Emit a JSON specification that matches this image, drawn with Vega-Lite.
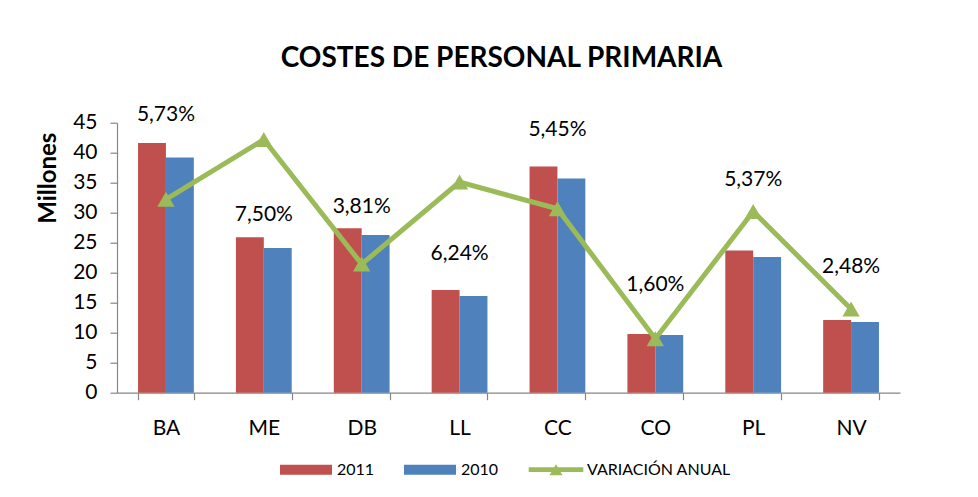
{
  "$schema": "https://vega.github.io/schema/vega-lite/v6.json",
  "width": 783,
  "height": 270,
  "autosize": {"type": "none"},
  "padding": {"left": 117, "top": 122.7, "right": 78, "bottom": 104.3},
  "background": "white",
  "config": {
    "locale": {"number": {"decimal": ",", "thousands": ".", "grouping": [3], "currency": ["", " €"]}},
    "view": {"stroke": null},
    "font": "Lato",
    "axis": {
      "domainColor": "#868686",
      "tickColor": "#868686",
      "domainWidth": 1.2,
      "tickWidth": 1.2,
      "tickSize": 7,
      "labelColor": "#000000",
      "labelFont": "Lato",
      "labelFontSize": 21,
      "grid": false,
      "titleColor": "#000000"
    }
  },
  "title": {
    "text": "COSTES DE PERSONAL PRIMARIA",
    "font": "Lato",
    "fontSize": 28,
    "fontWeight": "bold",
    "color": "#000000",
    "anchor": "middle",
    "frame": "group",
    "baseline": "alphabetic",
    "offset": 9,
    "dx": -7
  },
  "datasets": {
    "costes": [
      {"zona": "BA", "serie": "2011", "millones": 41.6},
      {"zona": "BA", "serie": "2010", "millones": 39.2},
      {"zona": "ME", "serie": "2011", "millones": 25.9},
      {"zona": "ME", "serie": "2010", "millones": 24.1},
      {"zona": "DB", "serie": "2011", "millones": 27.4},
      {"zona": "DB", "serie": "2010", "millones": 26.3},
      {"zona": "LL", "serie": "2011", "millones": 17.1},
      {"zona": "LL", "serie": "2010", "millones": 16.1},
      {"zona": "CC", "serie": "2011", "millones": 37.7},
      {"zona": "CC", "serie": "2010", "millones": 35.7},
      {"zona": "CO", "serie": "2011", "millones": 9.8},
      {"zona": "CO", "serie": "2010", "millones": 9.6},
      {"zona": "PL", "serie": "2011", "millones": 23.7},
      {"zona": "PL", "serie": "2010", "millones": 22.6},
      {"zona": "NV", "serie": "2011", "millones": 12.1},
      {"zona": "NV", "serie": "2010", "millones": 11.8}
    ],
    "variacion": [
      {"zona": "BA", "variacion": 0.0573, "y_etiqueta": 0.0823},
      {"zona": "ME", "variacion": 0.0750, "y_etiqueta": 0.0527},
      {"zona": "DB", "variacion": 0.0381, "y_etiqueta": 0.0549},
      {"zona": "LL", "variacion": 0.0624, "y_etiqueta": 0.0411},
      {"zona": "CC", "variacion": 0.0545, "y_etiqueta": 0.0777},
      {"zona": "CO", "variacion": 0.0160, "y_etiqueta": 0.0319},
      {"zona": "PL", "variacion": 0.0537, "y_etiqueta": 0.0630},
      {"zona": "NV", "variacion": 0.0248, "y_etiqueta": 0.0372}
    ]
  },
  "layer": [
    {
      "data": {"name": "costes"},
      "mark": {"type": "bar"},
      "encoding": {
        "x": {
          "field": "zona",
          "type": "nominal",
          "sort": ["BA", "ME", "DB", "LL", "CC", "CO", "PL", "NV"],
          "scale": {"paddingInner": 0.43, "paddingOuter": 0.215},
          "axis": {"title": null, "labelAngle": 0, "tickBand": "extent", "labelPadding": 18}
        },
        "xOffset": {
          "field": "serie",
          "type": "nominal",
          "sort": ["2011", "2010"],
          "scale": {"paddingInner": 0, "paddingOuter": 0}
        },
        "y": {
          "field": "millones",
          "type": "quantitative",
          "scale": {"domain": [0, 45], "nice": false},
          "axis": {
            "title": "Millones",
            "titleFont": "Lato",
            "titleFontSize": 24,
            "titleFontWeight": "bold",
            "titlePadding": 12,
            "titleY": 55,
            "values": [0, 5, 10, 15, 20, 25, 30, 35, 40, 45],
            "labelPadding": 13
          }
        },
        "color": {
          "field": "serie",
          "type": "nominal",
          "scale": {"domain": ["2011", "2010", "VARIACIÓN ANUAL"], "range": ["#C0504D", "#4F81BD", "#9BBB59"]},
          "legend": {
            "orient": "none",
            "legendX": 163,
            "legendY": 321,
            "direction": "horizontal",
            "title": null,
            "labelFont": "Lato",
            "labelFontSize": 16,
            "labelColor": "#000000",
            "labelOffset": 5,
            "columnPadding": 29,
            "symbolSize": 2704,
            "symbolType": "M-1,-0.19H1V0.19H-1Z",
            "encode": {
              "symbols": {
                "update": {
                  "shape": {"signal": "datum.value === 'VARIACIÓN ANUAL' ? 'M-1.05,-0.09H1.05V0.09H-1.05Z M-0.25,0.21L0,-0.21L0.25,0.21Z' : 'M-1,-0.19H1V0.19H-1Z'"},
                  "fill": {"signal": "datum.value === '2011' ? '#C0504D' : datum.value === '2010' ? '#4F81BD' : '#9BBB59'"},
                  "stroke": {"value": "transparent"},
                  "strokeWidth": {"value": 0},
                  "size": {"value": 2704},
                  "opacity": {"value": 1},
                  "fillOpacity": {"value": 1}
                }
              }
            }
          }
        }
      }
    },
    {
      "data": {"name": "variacion"},
      "layer": [
        {
          "mark": {
            "type": "line",
            "strokeWidth": 5,
            "point": {"shape": "triangle-up", "size": 300, "filled": true, "opacity": 1}
          },
          "encoding": {
            "x": {"field": "zona", "type": "nominal", "sort": ["BA", "ME", "DB", "LL", "CC", "CO", "PL", "NV"]},
            "y": {
              "field": "variacion",
              "type": "quantitative",
              "scale": {"domain": [0, 0.08], "nice": false},
              "axis": {
                "orient": "right",
                "title": null,
                "format": ".0%",
                "values": [0, 0.01, 0.02, 0.03, 0.04, 0.05, 0.06, 0.07, 0.08],
                "labelPadding": 15
              }
            },
            "color": {"datum": "VARIACIÓN ANUAL"}
          }
        },
        {
          "mark": {"type": "text", "fontSize": 21, "font": "Lato", "color": "#000000", "baseline": "middle", "align": "center"},
          "encoding": {
            "x": {"field": "zona", "type": "nominal", "sort": ["BA", "ME", "DB", "LL", "CC", "CO", "PL", "NV"]},
            "y": {"field": "y_etiqueta", "type": "quantitative", "axis": null},
            "text": {"field": "variacion", "type": "quantitative", "format": ".2%"}
          }
        }
      ]
    }
  ],
  "resolve": {"scale": {"y": "independent"}}
}
